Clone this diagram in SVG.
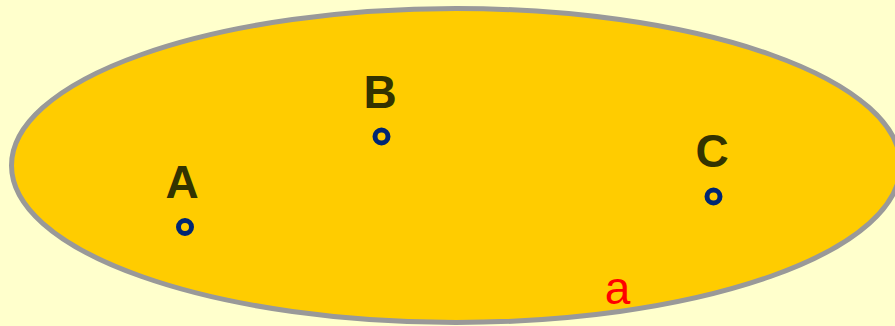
<svg xmlns="http://www.w3.org/2000/svg" width="895" height="326" viewBox="0 0 895 326">
<style>
.lbl{font-family:"Liberation Sans",Arial,sans-serif;font-weight:bold;font-size:46px;fill:#333300;text-anchor:middle}
.pt{fill:none;stroke:#002673;stroke-width:5}
.set{fill:#FFCC00;stroke:#999999;stroke-width:5}
.name{font-family:"Liberation Sans",Arial,sans-serif;font-size:46px;fill:#FF0000;text-anchor:middle}
</style>
<rect width="895" height="326" fill="#FFFFCC"/>
<g id="set-a">
<ellipse class="set" cx="456" cy="165.5" rx="444.5" ry="157"/>
<text class="name" x="617.5" y="304">a</text>
</g>
<g id="node-A">
<text class="lbl" x="182" y="198">A</text>
<circle class="pt" cx="185" cy="227" r="6.5"/>
</g>
<g id="node-B">
<text class="lbl" x="380" y="108">B</text>
<circle class="pt" cx="381.5" cy="136.5" r="6.5"/>
</g>
<g id="node-C">
<text class="lbl" x="712" y="167">C</text>
<circle class="pt" cx="713.5" cy="196.5" r="6.5"/>
</g>
<g id="connectors"/>
</svg>
